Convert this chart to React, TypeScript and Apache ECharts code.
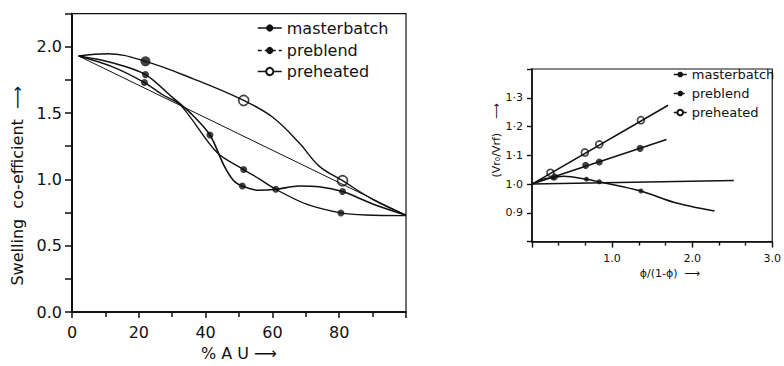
import React, { useEffect, useRef } from 'react';
import * as echarts from 'echarts';

// ---------- Left chart: swelling co-efficient vs % AU ----------
const leftMasterbatchCurve: number[][] = [
  [2, 1.93], [12, 1.88], [22, 1.79], [30, 1.62], [35.5, 1.5], [41.3, 1.335],
  [45.4, 1.11], [48.4, 0.99], [51, 0.95], [55.8, 0.918], [61, 0.925],
  [68, 0.95], [74, 0.945], [81, 0.908], [90, 0.815], [100, 0.73],
];
const leftMasterbatchPoints: number[][] = [
  [22, 1.79], [41.3, 1.335], [51, 0.95], [61, 0.925], [81, 0.908],
];
const leftPreblendCurve: number[][] = [
  [2, 1.93], [12, 1.85], [21.7, 1.73], [27, 1.64], [32.5, 1.56], [43.5, 1.2],
  [51.4, 1.074], [56.3, 1.0], [61, 0.925], [70.2, 0.813], [80.5, 0.747],
  [88, 0.731], [100, 0.727],
];
const leftPreblendPoints: number[][] = [
  [21.7, 1.73], [51.4, 1.074], [80.5, 0.747],
];
const leftPreheatedCurve: number[][] = [
  [2, 1.93], [10.7, 1.947], [22, 1.89], [36.5, 1.756], [51.4, 1.595],
  [60, 1.47], [68.2, 1.27], [74, 1.1], [81, 0.99], [90, 0.85], [100, 0.73],
];
const leftPreheatedFilledPoints: number[][] = [[22, 1.89]];
const leftPreheatedOpenPoints: number[][] = [[51.4, 1.595], [81, 0.99]];
const leftStraightLine: number[][] = [[2, 1.93], [100, 0.73]];

// ---------- Right chart: (Vr0/Vrf) vs phi/(1-phi) ----------
const rightPreheatedLine: number[][] = [[0, 1.0], [1.7, 1.274]];
const rightPreheatedPoints: number[][] = [[0.23, 1.039], [0.66, 1.11], [0.84, 1.138], [1.36, 1.222]];
const rightMasterbatchLine: number[][] = [[0, 1.0], [1.68, 1.155]];
const rightMasterbatchPoints: number[][] = [[0.28, 1.025], [0.67, 1.065], [0.84, 1.077], [1.35, 1.124]];
const rightPreblendCurve: number[][] = [
  [0, 1.0], [0.15, 1.018], [0.4, 1.027], [0.68, 1.017], [0.84, 1.008],
  [1.36, 0.976], [1.78, 0.936], [2.28, 0.906],
];
const rightPreblendPoints: number[][] = [[0.26, 1.022], [0.68, 1.017], [0.84, 1.008], [1.36, 0.976]];
const rightFlatLine: number[][] = [[0, 1.0], [2.52, 1.012]];

const leftXLabels = ['0', '20', '40', '60', '80'];
const legendNames = ['masterbatch', 'preblend', 'preheated'];

const INK = '#111';
const FONT = 'DejaVu Sans';

export default function App() {
  const ref = useRef<HTMLDivElement>(null);
  useEffect(() => {
    const chart = echarts.init(ref.current!, undefined, { renderer: 'svg' });
    const axisLine = (w: number) => ({ show: true, lineStyle: { color: INK, width: w } });
    const line = (name: string | undefined, data: number[][], gi: number, w: number, smooth: number | boolean, symbol: string) => ({
      type: 'line', name, xAxisIndex: gi, yAxisIndex: gi, data, smooth,
      symbol, showSymbol: false, silent: true,
      lineStyle: { color: INK, width: w }, itemStyle: { color: INK },
    });
    const pts = (name: string | undefined, data: number[][], gi: number, size: number, open: boolean) => ({
      type: 'scatter', name, xAxisIndex: gi, yAxisIndex: gi, data,
      symbol: 'circle', symbolSize: size, silent: true,
      itemStyle: open ? { color: '#fff', borderColor: INK, borderWidth: 1.6 } : { color: INK },
    });
    const legendItem = (idx: number, left: number, top: number, iw: number, ih: number, fs: number) => ({
      left, top, padding: 0, orient: 'vertical', itemWidth: iw, itemHeight: ih, itemGap: 5,
      selectedMode: false,
      lineStyle: idx === 1 ? { type: [4, 3], width: 1.5 } : { width: 1.5 },
      textStyle: { fontSize: fs, fontFamily: FONT, color: INK },
      data: [legendNames[idx]],
    });
    const option: any = {
      animation: false,
      backgroundColor: '#fff',
      textStyle: { fontFamily: FONT, color: INK },
      grid: [
        { left: 72, right: 378, top: 13.6, bottom: 50, show: true, borderColor: INK, borderWidth: 1.2 },
        { left: 532, right: 2, top: 69, bottom: 124.4, show: true, borderColor: INK, borderWidth: 1.2 },
      ],
      legend: [
        legendItem(0, 257, 20, 24, 9, 16),
        legendItem(1, 257, 42.5, 24, 9, 16),
        legendItem(2, 257, 63.5, 24, 9, 16),
        legendItem(0, 673, 68, 13, 7, 13),
        legendItem(1, 673, 87, 13, 7, 13),
        legendItem(2, 673, 106, 13, 7, 13),
      ],
      xAxis: [
        {
          type: 'value', gridIndex: 0, min: 0, max: 100, interval: 20,
          axisLine: axisLine(2), splitLine: { show: false },
          axisTick: { show: true, length: 6, lineStyle: { color: INK, width: 1.5 } },
          minorTick: { show: true, splitNumber: 2, length: 5, lineStyle: { color: INK, width: 1.5 } },
          axisLabel: {
            fontSize: 16, color: INK, fontFamily: FONT, margin: 12,
            formatter: (v: number) => (v < 100 ? leftXLabels[Math.round(v / 20)] : ''),
          },
          name: '% A U \u27F6', nameLocation: 'middle', nameGap: 33,
          nameTextStyle: { fontSize: 16, color: INK, fontFamily: FONT },
        },
        {
          type: 'value', gridIndex: 1, min: 0, max: 3, interval: 1,
          axisLine: axisLine(1.6), splitLine: { show: false },
          axisTick: { show: true, length: 6, lineStyle: { color: INK, width: 1.4 } },
          minorTick: { show: true, splitNumber: 3, length: 4, lineStyle: { color: INK, width: 1.4 } },
          axisLabel: {
            fontSize: 11, color: INK, fontFamily: FONT, margin: 11,
            formatter: (v: number) => (v > 0 ? v.toFixed(1) : ''),
          },
          name: '\u03D5/(1-\u03D5)  \u27F6', nameLocation: 'middle', nameGap: 26,
          nameTextStyle: { fontSize: 11, color: INK, fontFamily: FONT, padding: [0, 0, 0, 36] },
        },
      ],
      yAxis: [
        {
          type: 'value', gridIndex: 0, min: 0, max: 2.25, interval: 0.25,
          axisLine: axisLine(2), splitLine: { show: false },
          axisTick: { show: true, length: 7, lineStyle: { color: INK, width: 1.5 } },
          axisLabel: {
            fontSize: 16, color: INK, fontFamily: FONT, margin: 10,
            formatter: (v: number) => (Math.round(v * 4) % 2 === 0 ? v.toFixed(1) : ''),
          },
          name: 'Swelling  co-efficient  \u27F6', nameLocation: 'middle', nameGap: 47,
          nameTextStyle: { fontSize: 16, color: INK, fontFamily: FONT, padding: [0, 46, 0, 0] },
        },
        {
          type: 'value', gridIndex: 1, min: 0.8, max: 1.4, interval: 0.1,
          axisLine: axisLine(1.6), splitLine: { show: false },
          axisTick: { show: true, length: 5, lineStyle: { color: INK, width: 1.4 } },
          axisLabel: {
            fontSize: 11, color: INK, fontFamily: FONT, margin: 9,
            formatter: (v: number) => (v > 0.85 && v < 1.35 ? v.toFixed(1).replace('.', '\u00B7') : ''),
          },
          name: '(Vr\u2080/Vrf)    \u27F6', nameLocation: 'middle', nameGap: 30,
          nameTextStyle: { fontSize: 11, color: INK, fontFamily: FONT, padding: [0, 0, 0, 30] },
        },
      ],
      series: [
        line('masterbatch', leftMasterbatchCurve, 0, 1.6, 0.3, 'circle'),
        line('preblend', leftPreblendCurve, 0, 1.4, 0.3, 'circle'),
        line('preheated', leftPreheatedCurve, 0, 1.4, 0.4, 'emptyCircle'),
        line(undefined, leftStraightLine, 0, 1, false, 'none'),
        pts('masterbatch', leftMasterbatchPoints, 0, 7, false),
        pts('preblend', leftPreblendPoints, 0, 7, false),
        pts('preheated', leftPreheatedFilledPoints, 0, 10, false),
        pts('preheated', leftPreheatedOpenPoints, 0, 10, true),
        line('masterbatch', rightMasterbatchLine, 1, 1.5, false, 'circle'),
        line('preblend', rightPreblendCurve, 1, 1.5, 0.3, 'circle'),
        line('preheated', rightPreheatedLine, 1, 1.5, false, 'emptyCircle'),
        line(undefined, rightFlatLine, 1, 1.5, false, 'none'),
        pts('masterbatch', rightMasterbatchPoints, 1, 7, false),
        pts('preblend', rightPreblendPoints, 1, 5, false),
        pts('preheated', rightPreheatedPoints, 1, 7, true),
      ],
    };
    chart.setOption(option);
    return () => chart.dispose();
  }, []);
  return (
    <div
      ref={ref}
      style={{ position: 'fixed', left: 0, top: 0, width: 784, height: 366, background: '#fff' }}
    />
  );
}
